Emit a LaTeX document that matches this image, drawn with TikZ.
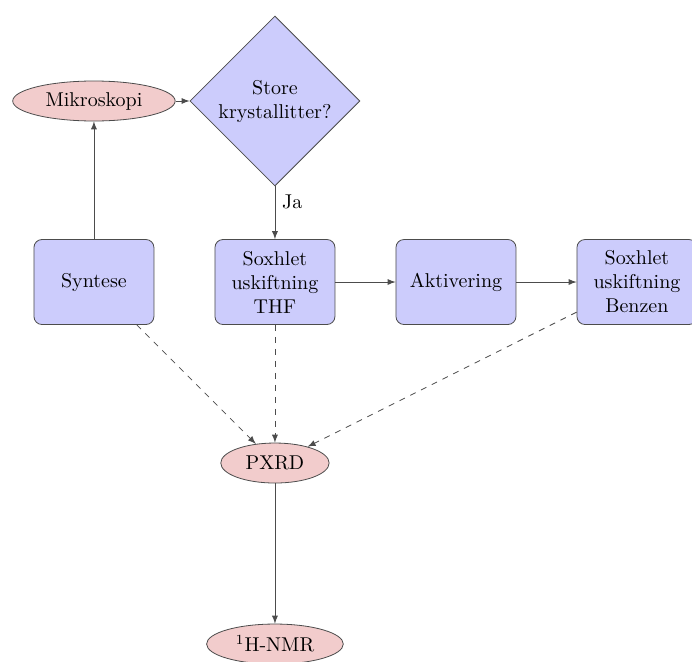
\documentclass[tikz,border=0pt]{standalone}
\usetikzlibrary{shapes.geometric}
\definecolor{probefill}{RGB}{242,204,204}
\definecolor{boxfill}{RGB}{204,204,252}
\tikzset{
  box/.style={rectangle, rounded corners=4pt, draw=black!70, fill=boxfill, minimum width=60pt, minimum height=42.5pt, text width=56pt, align=center, inner sep=2pt},
  decision/.style={diamond, draw=black!70, fill=boxfill, aspect=1, minimum size=85pt, inner sep=1pt, align=center},
  probe/.style={ellipse, draw=black!70, fill=probefill, inner xsep=4.5pt, inner ysep=2pt, minimum height=20pt},
  line/.style={draw=black!70, ->, >=latex},
  dashline/.style={line, dashed},
}
\begin{document}
\begin{tikzpicture}
        \pgfmathsetmacro{\s}{3.181};
        \useasboundingbox (-0.519*\s, 1.558*\s) rectangle (3.304*\s, -2.094*\s);
        \node [box] (syntese) at (0, 0) {Syntese};
        \node [probe] (mikro) at (0, \s*1) {Mikroskopi};
        \node [decision] (store) at (\s*1, \s*1) {Store\\krystallitter?};
        \node [box] (thf) at (\s*1, 0) {Soxhlet\\uskiftning\\THF};
        \node [box] (akt) at (\s*2, 0) {Aktivering};
        \node [box] (benzen) at (\s*3, 0) {Soxhlet\\uskiftning\\Benzen};
        \node [probe] (pxrd) at (\s*1, -\s*1) {PXRD};
        \node [probe] (nmr) at (\s*1, -\s*2) {$^1$H-NMR};
        \draw [line] (syntese) -- (mikro);
        \draw [line] (mikro) -- (store);
        \draw [line] (store) -- node [right, pos=0.3] {Ja} (thf);
        \draw [line] (thf) -- (akt);
        \draw [line] (akt) -- (benzen);
        \draw [dashline] (syntese) -- (pxrd);
        \draw [dashline] (thf) -- (pxrd);
        \draw [dashline] (benzen) -- (pxrd);
        \draw [line] (pxrd) -- (nmr);
    \end{tikzpicture}
\end{document}
